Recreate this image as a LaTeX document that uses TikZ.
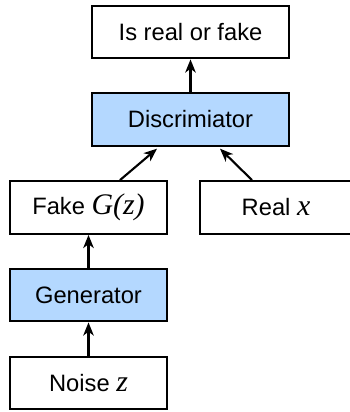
\documentclass[tikz,border=0pt]{standalone}
\usepackage{fontspec}
\setmainfont{Liberation Sans}
\newfontfamily\varfont{Liberation Serif}
\usetikzlibrary{arrows.meta,positioning}
\definecolor{netBlue}{RGB}{180,216,255}
\newcommand{\var}[1]{{\varfont\itshape\fontsize{17}{18}\selectfont #1}}
\tikzset{
    blk/.style={draw, line width=1.2pt, minimum height=30pt, inner sep=0pt,
        font=\fontsize{13.5}{16}\selectfont},
    net/.style={blk, fill=netBlue},
    flow/.style={line width=1.2pt, -{Stealth[length=7.5pt,width=6pt,inset=2.2pt]}}
}

\begin{document}
\begin{tikzpicture}[x=0.02cm,y=-0.02cm]
    \useasboundingbox (0,0) rectangle (349,412);

    \node[blk, minimum width=3.94cm] (out) at (190.5, 32) {Is real or fake};
    \node[net, minimum width=3.94cm] (disc) at (190.5, 119.5) {Discrimiator};
    \node[blk, minimum width=3.14cm] (fake) at (88.5, 207.5) {Fake \var{G(z)}};
    \node[blk, minimum width=3.04cm] (real) at (276, 207.5) {Real \var{x}};
    \node[net, minimum width=3.14cm] (gen) at (88.5, 295) {Generator};
    \node[blk, minimum width=3.14cm] (noise) at (88.5, 383) {Noise \var{z}};

    \draw[flow] (noise) -- (gen);
    \draw[flow] (gen) -- (fake);
    \draw[flow] ([xshift=0.63cm]fake.north) -- ([xshift=-0.67cm,yshift=-1pt]disc.south);
    \draw[flow] ([xshift=-0.48cm]real.north) -- ([xshift=0.59cm,yshift=-1pt]disc.south);
    \draw[flow] (disc) -- (out);
\end{tikzpicture}
\end{document}
